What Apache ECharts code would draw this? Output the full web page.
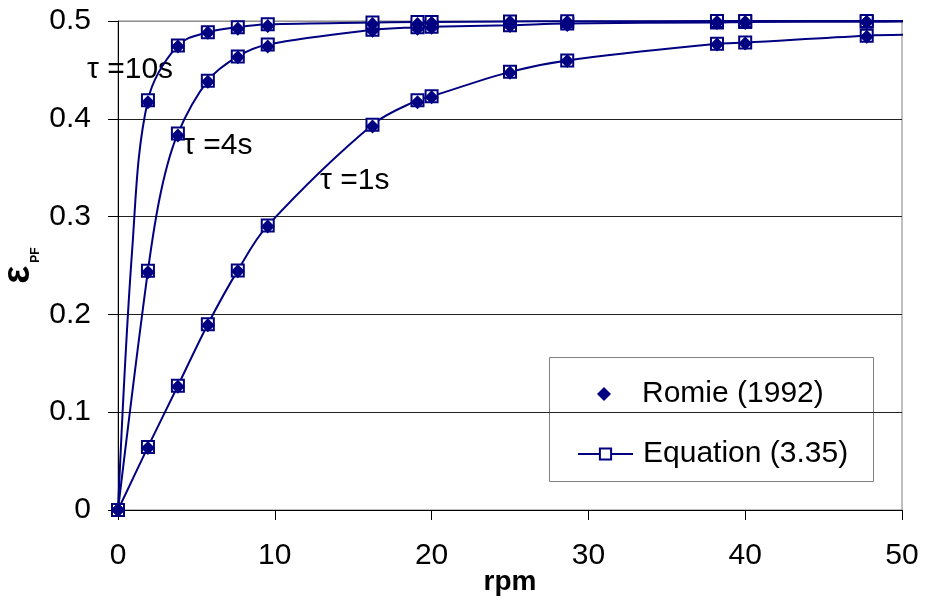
<!DOCTYPE html>
<html>
<head>
<meta charset="utf-8">
<script src="https://cdn.jsdelivr.net/npm/echarts@6/dist/echarts.min.js"></script>
<style>
html,body{margin:0;padding:0;background:#fff;}
#c{width:926px;height:601px;}
</style>
</head>
<body>
<div id="c"></div>
<script>
// rpm values of the measured / computed points
const rpm = [0, 1.91, 3.82, 5.73, 7.64, 9.55, 16.23, 19.10, 20, 25, 28.65, 38.20, 40, 47.75];
// Equation (3.35) values
const eq1s  = [0, 0.0645, 0.127, 0.190, 0.245, 0.291, 0.394, 0.419, 0.423, 0.448, 0.4597, 0.4767, 0.478, 0.485];
const eq4s  = [0, 0.2447, 0.385, 0.439, 0.4638, 0.476, 0.491, 0.4937, 0.494, 0.4957, 0.4975, 0.4985, 0.499, 0.4992];
const eq10s = [0, 0.419, 0.475, 0.4886, 0.4937, 0.4966, 0.4985, 0.499, 0.499, 0.4995, 0.4997, 0.4999, 0.4999, 0.5];
// Romie (1992) values
const ro1s  = [0, 0.0635, 0.126, 0.189, 0.244, 0.290, 0.392, 0.417, 0.422, 0.447, 0.459, 0.476, 0.477, 0.484];
const ro4s  = [0, 0.243, 0.383, 0.438, 0.463, 0.474, 0.490, 0.492, 0.493, 0.495, 0.496, 0.498, 0.498, 0.499];
const ro10s = [0, 0.417, 0.474, 0.488, 0.492, 0.495, 0.497, 0.497, 0.498, 0.499, 0.499, 0.499, 0.499, 0.499];
// extra unmarked curve points [rpm, value]
const extra1s  = [[50.6, 0.486]];
const extra4s  = [[2.76, 0.327], [50.6, 0.4995]];
const extra10s = [[0.9, 0.265], [50.6, 0.5]];
// axes
const xTicks = [0, 10, 20, 30, 40, 50];
const yTicks = [0, 0.1, 0.2, 0.3, 0.4, 0.5];
const tauLabels = ['\u03c4 =10s', '\u03c4 =4s', '\u03c4 =1s'];
const seriesNames = ['Romie (1992)', 'Equation (3.35)'];

const NAVY = '#000080';
const FONT = 'Liberation Sans, Arial, sans-serif';

function eqData(vals, extra) {
  const pts = rpm.map((x, i) => ({ value: [x, vals[i]] }));
  extra.forEach(p => pts.push({ value: p, symbol: 'none' }));
  pts.sort((a, b) => a.value[0] - b.value[0]);
  return pts;
}
function roData(vals) { return rpm.map((x, i) => [x, vals[i]]); }

function eqSeries(vals, extra) {
  return {
    name: seriesNames[1], type: 'line', data: eqData(vals, extra),
    smooth: 0.35, clip: false, symbol: 'emptyRect', symbolSize: 12,
    showAllSymbol: true,
    itemStyle: { color: NAVY, borderColor: NAVY, borderWidth: 2, opacity: 1 },
    lineStyle: { color: NAVY, width: 2 }, z: 2
  };
}
function roSeries(vals) {
  return {
    name: seriesNames[0], type: 'scatter', data: roData(vals),
    symbol: 'diamond', symbolSize: 14, clip: false,
    itemStyle: { color: NAVY, opacity: 1 }, z: 3
  };
}

const legendText = { fontFamily: FONT, fontSize: 30, color: '#000' };

const chart = echarts.init(document.getElementById('c'), null, { renderer: 'canvas' });
chart.setOption({
  animation: false,
  backgroundColor: '#fff',
  grid: { left: 118, right: 24, top: 21, bottom: 91, show: true, borderColor: '#808080', borderWidth: 1,
          containLabel: false, outerBoundsMode: 'none' },
  xAxis: {
    type: 'value', min: xTicks[0], max: xTicks[xTicks.length - 1], interval: 10,
    name: 'rpm', nameLocation: 'middle', nameGap: 58, nameMoveOverlap: false,
    nameTextStyle: { fontFamily: FONT, fontSize: 28, fontWeight: 'bold', color: '#000' },
    axisLine: { show: true, onZero: false, lineStyle: { color: '#000', width: 1 } },
    axisTick: { show: true, length: 10, lineStyle: { color: '#000' } },
    axisLabel: { fontFamily: FONT, fontSize: 30, color: '#000', margin: 31 },
    splitLine: { show: false }
  },
  yAxis: {
    type: 'value', min: yTicks[0], max: yTicks[yTicks.length - 1], interval: 0.1,
    name: '{e|\u03b5}{s|PF}', nameLocation: 'middle', nameGap: 80, nameRotate: 90, nameMoveOverlap: false,
    nameTextStyle: {
      rich: {
        e: { fontFamily: FONT, fontSize: 38, fontWeight: 'bold', color: '#000' },
        s: { fontFamily: FONT, fontSize: 12, fontWeight: 'bold', color: '#000', verticalAlign: 'bottom', padding: [0, 0, -4, 3] }
      }
    },
    axisLine: { show: true, lineStyle: { color: '#000', width: 1 } },
    axisTick: { show: true, length: 10, lineStyle: { color: '#000' } },
    axisLabel: { fontFamily: FONT, fontSize: 30, color: '#000', margin: 27 },
    splitLine: { show: true, lineStyle: { color: ['#000', '#222', '#222', '#222', '#222', '#909090'], width: 1 } }
  },
  legend: [
    {
      orient: 'vertical', left: 597, top: 379, padding: 0,
      itemWidth: 14, itemHeight: 14,
      data: [{ name: seriesNames[0], icon: 'diamond' }],
      textStyle: Object.assign({ padding: [0, 0, 0, 26] }, legendText)
    },
    {
      orient: 'vertical', left: 577, top: 439, padding: 0,
      itemWidth: 55, itemHeight: 14,
      data: [{ name: seriesNames[1] }],
      textStyle: Object.assign({ padding: [0, 0, 0, 5] }, legendText)
    }
  ],
  graphic: [
    { type: 'rect', z: -1, shape: { x: 549.5, y: 357.5, width: 324, height: 124 },
      style: { fill: '#fff', stroke: '#808080', lineWidth: 1 } },
    { type: 'text', x: 87, y: 70, style: { text: tauLabels[0], font: '30px ' + FONT, fill: '#000', verticalAlign: 'middle' } },
    { type: 'text', x: 183, y: 146, style: { text: tauLabels[1], font: '30px ' + FONT, fill: '#000', verticalAlign: 'middle' } },
    { type: 'text', x: 320, y: 181, style: { text: tauLabels[2], font: '30px ' + FONT, fill: '#000', verticalAlign: 'middle' } }
  ],
  series: [
    eqSeries(eq1s, extra1s), eqSeries(eq4s, extra4s), eqSeries(eq10s, extra10s),
    roSeries(ro1s), roSeries(ro4s), roSeries(ro10s)
  ]
});
</script>
</body>
</html>
